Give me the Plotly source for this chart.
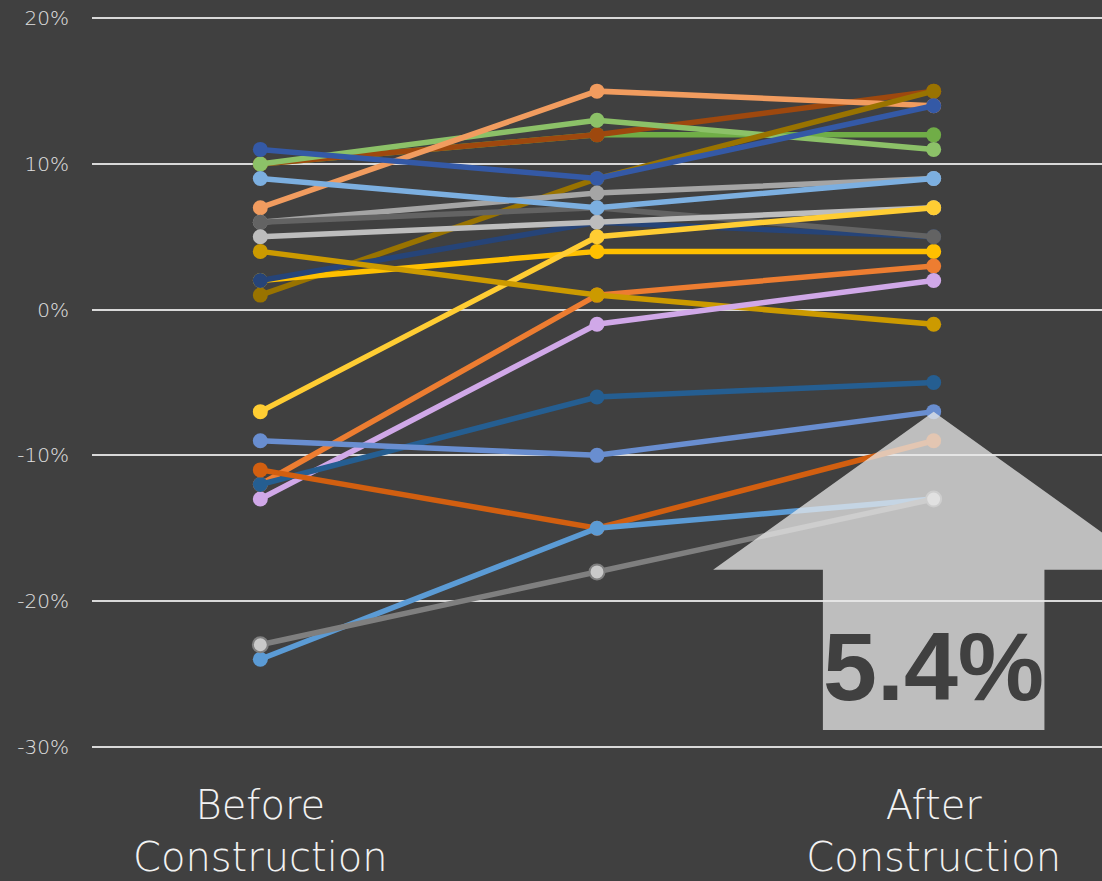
import plotly.graph_objects as go

stages = [0, 1, 2]
stage_labels = ["Before<br>Construction", "", "After<br>Construction"]

series_names = [
    "S1", "S2", "S3", "S4", "S5", "S6", "S7", "S8", "S9", "S10", "S11",
    "S12", "S13", "S14", "S15", "S16", "S17", "S18", "S19", "S20", "S21",
]
series_values = [
    [10, 12, 12],
    [10, 12, 15],
    [10, 13, 11],
    [7, 15, 14],
    [1, 9, 15],
    [11, 9, 14],
    [2, 4, 4],
    [2, 6, 5],
    [6, 8, 9],
    [6, 7, 5],
    [5, 6, 7],
    [9, 7, 9],
    [-7, 5, 7],
    [-12, 1, 3],
    [4, 1, -1],
    [-13, -1, 2],
    [-12, -6, -5],
    [-9, -10, -7],
    [-11, -15, -9],
    [-24, -15, -13],
    [-23, -18, -13],
]
series_colors = [
    "#70ad47", "#9e480e", "#8cc168", "#f19c5f", "#997300", "#3459a6",
    "#ffc000", "#264478", "#a5a5a5", "#636363", "#bdbdbd", "#7cafe0",
    "#ffcd33", "#ed7d31", "#cc9a00", "#d0a8e8", "#255e91", "#698ed0",
    "#d25f10", "#5b9bd5", "#7f7f7f",
]
marker_colors = [None] * 20 + ["#c9c9c9"]

y_ticks = [-30, -20, -10, 0, 10, 20]
y_tick_labels = ["-30%", "-20%", "-10%", "0%", "10%", "20%"]
average_change = "5.4%"

fig = go.Figure()
for name, vals, col, mcol in zip(series_names, series_values, series_colors, marker_colors):
    fig.add_trace(go.Scatter(
        x=stages, y=vals, name=name, mode="lines+markers",
        line=dict(color=col, width=5.5),
        marker=dict(size=15, color=mcol or col,
                    line=dict(color=col, width=2 if mcol else 0)),
        showlegend=False, hoverinfo="skip",
    ))

# big translucent arrow
arrow_path = ("M 2 -7 L 2.655 -17.86 L 2.329 -17.86 L 2.329 -28.85 "
              "L 1.671 -28.85 L 1.671 -17.86 L 1.345 -17.86 Z")
fig.add_shape(type="path", path=arrow_path, xref="x", yref="y",
              fillcolor="rgba(232,232,232,0.75)", line=dict(width=0),
              layer="above")
fig.add_annotation(x=2, y=-24.5, xref="x", yref="y", text=average_change,
                   showarrow=False,
                   font=dict(family="Liberation Sans, Arial", size=97,
                             color="#404040", weight="bold"))

fig.update_layout(
    width=1102, height=881,
    paper_bgcolor="#404040", plot_bgcolor="#404040",
    margin=dict(l=92, r=0, t=11, b=127),
    font=dict(family="DejaVu Sans", color="#d9d9d9"),
)
fig.update_xaxes(
    range=[-0.5, 2.5], tickvals=stages, ticktext=stage_labels,
    showgrid=False, zeroline=False, showline=False,
    tickfont=dict(size=40, color="#f2f2f2", family="DejaVu Sans", weight=200),
    ticklabelstandoff=24,
)
fig.update_yaxes(
    range=[-30.5, 20.5], tickvals=y_ticks, ticktext=y_tick_labels,
    showgrid=True, gridcolor="#d9d9d9", gridwidth=2,
    zeroline=False, showline=False,
    tickfont=dict(size=20, color="#e0e0e0", family="DejaVu Sans", weight=200),
    ticklabelstandoff=22,
)

fig.write_html(
    "out.html",
    config={"displayModeBar": False},
    post_script="document.body.style.margin='0';"
                "document.body.style.background='#404040';"
                "document.body.style.overflow='hidden';",
)
